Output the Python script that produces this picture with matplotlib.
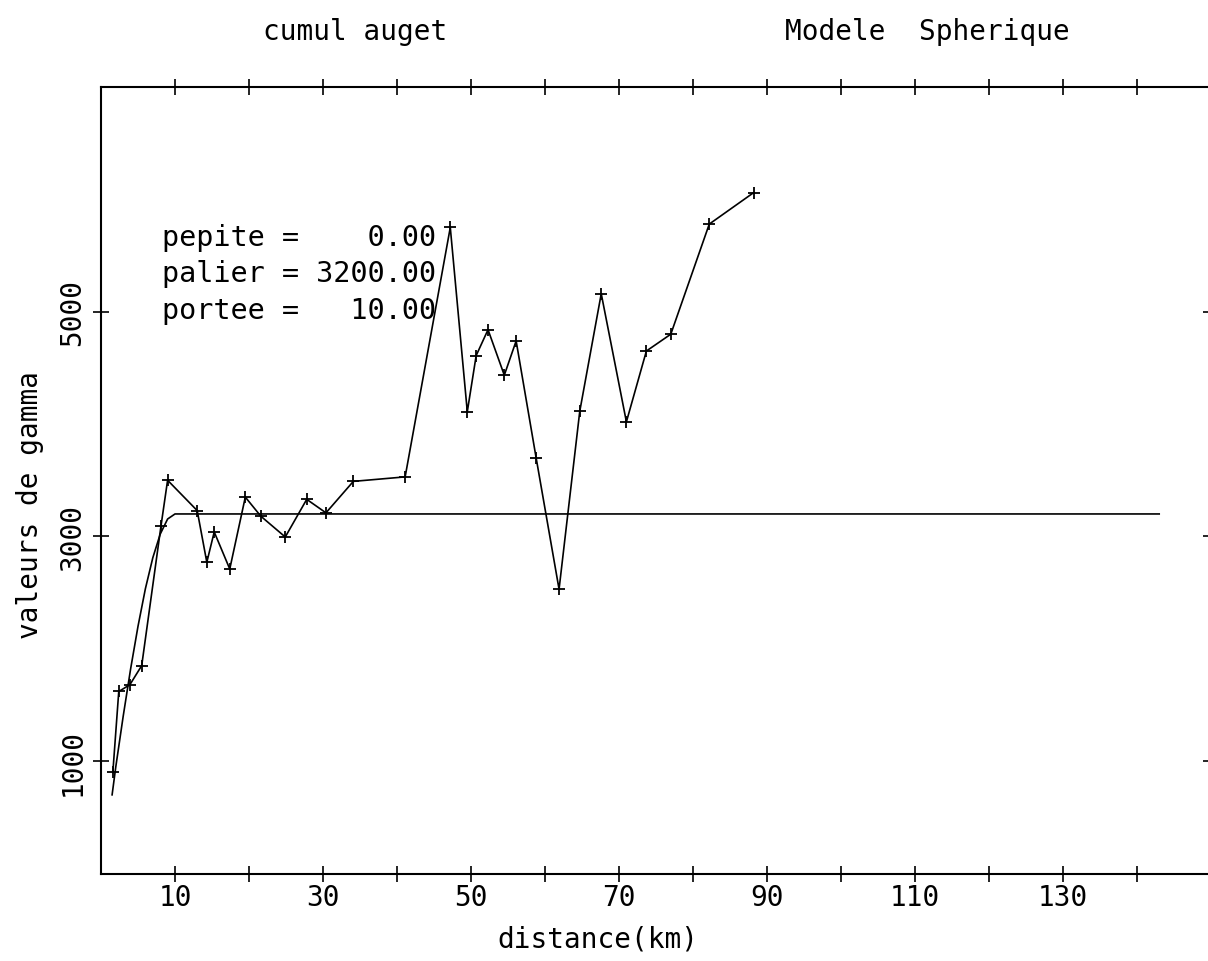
import numpy as np
import matplotlib
matplotlib.use("Agg")
import matplotlib.pyplot as plt

# experimental variogram (distance in km, gamma)
dist = [1.6, 2.4, 3.9, 5.5, 8.1, 9.0, 13.0, 14.3, 15.3, 17.4, 19.5, 21.6, 24.9,
        27.8, 30.4, 34.1, 41.1, 47.2, 49.5, 50.7, 52.3, 54.5, 56.1, 58.8, 61.9,
        64.7, 67.6, 71.0, 73.7, 77.0, 82.2, 88.2]
gamma = [900, 1620, 1680, 1850, 3090, 3500, 3230, 2770, 3040, 2710, 3350, 3180,
         2995, 3330, 3210, 3490, 3530, 5750, 4110, 4610, 4840, 4435, 4740, 3700,
         2530, 4115, 5160, 4020, 4650, 4800, 5780, 6060]

# spherical model curve
model_dist = [1.5, 2, 3, 4, 5, 6, 7, 8, 9, 10, 143]
model_gamma = [700, 950, 1400, 1820, 2200, 2535, 2810, 3020, 3155, 3200, 3200]

xticks = [10, 20, 30, 40, 50, 60, 70, 80, 90, 100, 110, 120, 130, 140, 150]
xlabels = ["10", "", "30", "", "50", "", "70", "", "90", "", "110", "", "130", "", ""]
yticks = [1000, 3000, 5000]
ylabels = ["1000", "3000", "5000"]

params = ["pepite =    0.00", "palier = 3200.00", "portee =   10.00"]

plt.rcParams["font.family"] = ["DejaVu Sans Mono"]
W, H = 1208, 962
fig = plt.figure(figsize=(W / 100, H / 100), dpi=100)
ax = fig.add_axes([101 / W, (H - 874.5) / H, (1211 - 101) / W, (874.5 - 88) / H])

ax.plot(model_dist, model_gamma, color="black", lw=1.2)
ax.plot(dist, gamma, color="black", lw=1.2, marker="+", ms=9, mew=1.3)

ax.set_xlim(0, 150)
ax.set_ylim(0, 7000)
for s in ax.spines.values():
    s.set_linewidth(1.5)

ax.set_xticks(xticks)
ax.set_xticklabels(xlabels)
ax.set_yticks(yticks)
ax.set_yticklabels(ylabels, rotation=90, va="center")
ax.tick_params(axis="x", direction="inout", length=11, width=1.2, top=True,
               bottom=True, labelsize=20, pad=1)
ax.tick_params(axis="y", direction="inout", length=11, width=1.2, left=True,
               right=True, labelsize=20, pad=5)

fig.text(598 / W, 1 - 940 / H, "distance(km)", ha="center", va="center", fontsize=20)
fig.text(30 / W, 1 - 505 / H, "valeurs de gamma", ha="center", va="center",
         rotation=90, fontsize=20)
fig.text(263 / W, 1 - 32 / H, "cumul auget", ha="left", va="center", fontsize=20)
fig.text(785 / W, 1 - 32 / H, "Modele  Spherique", ha="left", va="center", fontsize=20)

for i, line in enumerate(params):
    fig.text(162 / W, 1 - (238 + 36.5 * i) / H, line, ha="left", va="center",
             fontsize=20.5)

fig.savefig("out.png", dpi=100)
